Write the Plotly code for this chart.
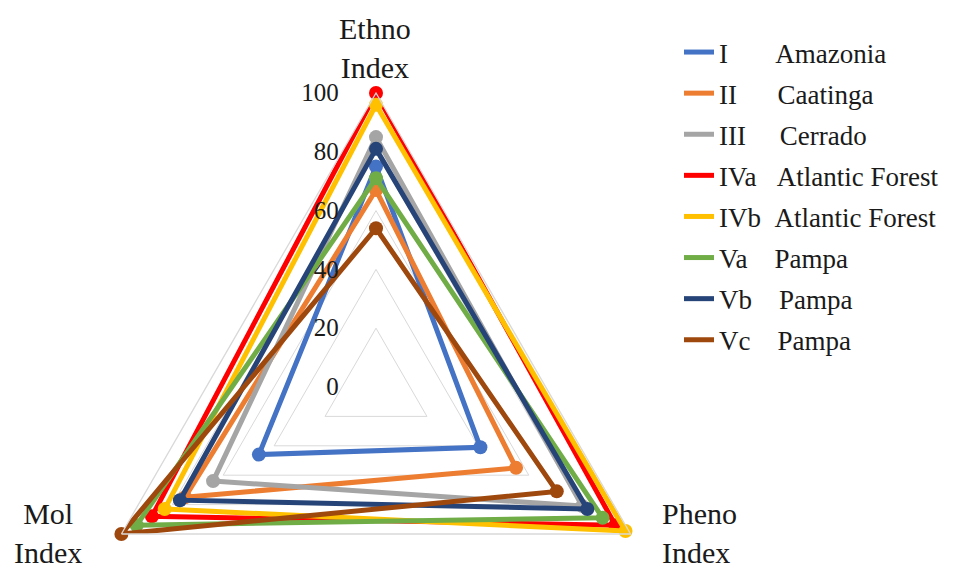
import plotly.graph_objects as go

categories = ["Ethno Index", "Pheno Index", "Mol Index"]

series_names = ["I", "II", "III", "IVa", "IVb", "Va", "Vb", "Vc"]
biomes = ["Amazonia", "Caatinga", "Cerrado", "Atlantic Forest", "Atlantic Forest",
          "Pampa", "Pampa", "Pampa"]

ethno = [75, 67, 85, 100, 96, 71, 81, 54]
pheno = [41, 55, 81, 94, 98, 89, 83, 71]
mol = [46, 75, 64, 88, 83, 94, 77, 100]

colors = ["#4472C4", "#ED7D31", "#A5A5A5", "#FF0000", "#FFC000",
          "#70AD47", "#264478", "#9E480E"]

tick_values = [0, 20, 40, 60, 80, 100]

# spacing between roman numeral and biome name in legend
gaps = [7, 6, 5, 3, 2, 4, 4, 4]

W, H = 964, 700

fig = go.Figure()

for i, name in enumerate(series_names):
    r = [ethno[i], pheno[i], mol[i]]
    label = name + "&nbsp;" * gaps[i] + biomes[i]
    fig.add_trace(go.Scatterpolar(
        r=r + [r[0]],
        theta=categories + [categories[0]],
        mode="lines",
        name=label,
        legendgroup=name,
        line=dict(color=colors[i], width=5),
        hoverinfo="skip",
    ))
    fig.add_trace(go.Scatterpolar(
        r=r,
        theta=categories,
        mode="markers",
        name=label,
        legendgroup=name,
        showlegend=False,
        marker=dict(color=colors[i], size=14),
    ))

text_font = dict(family="Liberation Serif", color="#1a1a1a")

fig.update_layout(
    width=W,
    height=H,
    margin=dict(l=0, r=0, t=0, b=0),
    paper_bgcolor="white",
    plot_bgcolor="white",
    font=text_font,
    polar=dict(
        domain=dict(x=[74 / W, 662 / W], y=[(H - 673) / H, (H - 85) / H]),
        gridshape="linear",
        bgcolor="rgba(0,0,0,0)",
        radialaxis=dict(
            range=[0, 100],
            tickvals=tick_values,
            angle=90,
            side="counterclockwise",
            showgrid=True,
            gridcolor="#D9D9D9",
            gridwidth=1.3,
            showline=False,
            ticks="outside",
            ticklen=28,
            tickcolor="rgba(0,0,0,0)",
            tickfont=dict(size=25, **text_font),
            tickangle=90,
        ),
        angularaxis=dict(
            categoryorder="array",
            categoryarray=categories,
            rotation=90,
            direction="clockwise",
            showgrid=False,
            showline=True,
            linecolor="#D9D9D9",
            linewidth=1.3,
            ticks="",
            showticklabels=False,
        ),
    ),
    legend=dict(
        x=671 / W,
        y=1 - 20 / H,
        xanchor="left",
        yanchor="top",
        bgcolor="rgba(0,0,0,0)",
        font=dict(size=27, **text_font),
        itemwidth=30,
        tracegroupgap=3,
        traceorder="grouped",
    ),
    annotations=[
        dict(text="Ethno<br>Index", x=367 / W, y=1 - 40 / H, xref="paper", yref="paper",
             xanchor="center", yanchor="middle", showarrow=False, align="center",
             font=dict(size=30, **text_font)),
        dict(text="Pheno<br>Index", x=652 / W, y=1 - 525 / H, xref="paper", yref="paper",
             xanchor="left", yanchor="middle", showarrow=False, align="left",
             font=dict(size=30, **text_font)),
        dict(text="Mol<br>Index", x=40 / W, y=1 - 525 / H, xref="paper", yref="paper",
             xanchor="center", yanchor="middle", showarrow=False, align="center",
             font=dict(size=30, **text_font)),
    ],
)

fig.write_html("out.html")
